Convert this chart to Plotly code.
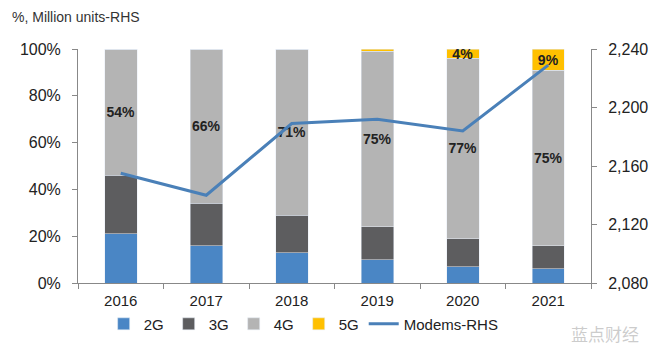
import plotly.graph_objects as go

years = ["2016", "2017", "2018", "2019", "2020", "2021"]
g2 = [21, 16, 13, 10, 7, 6]
g3 = [25, 18, 16, 14, 12, 10]
g4 = [54, 66, 71, 75, 77, 75]
g5 = [0, 0, 0, 1, 4, 9]
g4_labels = ["54%", "66%", "71%", "75%", "77%", "75%"]
g5_labels = ["", "", "", "", "4%", "9%"]
modems = [2155, 2140, 2189, 2192, 2184, 2229]

font_family = "Liberation Sans, Arial, sans-serif"
fig = go.Figure()
fig.add_bar(x=years, y=g2, name="2G", marker_color="#4a86c5", width=0.38)
fig.add_bar(x=years, y=g3, name="3G", marker_color="#5d5d5f", width=0.38)
fig.add_bar(x=years, y=g4, name="4G", marker_color="#b4b4b4", width=0.38,
            text=g4_labels, textposition="inside", insidetextanchor="middle",
            constraintext="none", textangle=0,
            textfont=dict(size=14, color="#222", family=font_family, weight="bold"))
fig.add_bar(x=years, y=g5, name="5G", marker_color="#ffc000", width=0.38,
            text=g5_labels, textposition="inside", insidetextanchor="middle",
            constraintext="none", textangle=0,
            textfont=dict(size=14, color="#222", family=font_family, weight="bold"))
fig.add_scatter(x=years, y=modems, name="Modems-RHS", yaxis="y2", mode="lines",
                line=dict(color="#4a80b8", width=3))

fig.update_layout(
    width=652, height=351,
    barmode="stack",
    plot_bgcolor="white", paper_bgcolor="white",
    margin=dict(l=69, r=67, t=41, b=76),
    font=dict(family=font_family, size=15, color="#222"),
    showlegend=True,
    legend=dict(orientation="h", x=0.05, y=-0.105, xanchor="left", yanchor="top",
                bgcolor="rgba(0,0,0,0)",
                font=dict(size=15), traceorder="normal"),
    xaxis=dict(showline=True, linecolor="#888", ticks="outside", tickson="boundaries",
               ticklen=5, tickcolor="#888", tickfont=dict(size=15),
               ticklabelstandoff=4),
    yaxis=dict(range=[0, 100], dtick=20, ticksuffix="%", showgrid=False,
               showline=True, linecolor="#888", ticks="outside", ticklen=5,
               tickcolor="#888", tickfont=dict(size=16), zeroline=False,
               ticklabelstandoff=8),
    yaxis2=dict(range=[2080, 2240], dtick=40, tickformat=",", overlaying="y",
                side="right", showgrid=False, showline=True, linecolor="#888",
                ticks="outside", ticklen=5, tickcolor="#888", tickfont=dict(size=16),
                zeroline=False, ticklabelstandoff=8),
    annotations=[
        dict(text="%, Million units-RHS", x=0, y=1, xref="paper", yref="paper",
             xanchor="left", yanchor="bottom", xshift=-68, yshift=22,
             showarrow=False, font=dict(size=14, color="#333")),
        dict(text="蓝点财经", x=1, y=0, xref="paper", yref="paper",
             xanchor="right", yanchor="top", xshift=50, yshift=-36,
             showarrow=False, font=dict(size=17, color="rgba(170,170,170,0.6)",
                                         family="Noto Sans CJK SC")),
    ],
)
fig.write_html("out.html")
